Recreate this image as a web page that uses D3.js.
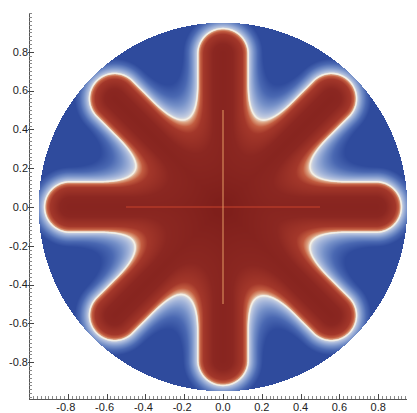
<!DOCTYPE html>
<html>
<head>
<meta charset="UTF-8">
<title>star field</title>
<style>
    body{ margin:0; background:#fff;}
    svg{ display:block;}
    text{ font-family:"Liberation Sans", Arial, sans-serif; font-size:11px; fill:#222;}
</style>
</head>
<body>
<script src="https://cdn.jsdelivr.net/npm/d3@7"></script>
<script>

// shape of the red region: 8 rounded arms merged with a smooth fillet
var armAngles = [0, 45, 90, 135, 180, 225, 270, 315];
var armTip = 0.92;
var armHalfWidth = 0.13;
var filletK = 0.23;
var domainRadius = 0.95;

// guide lines drawn on top
var hLine = [[-0.5, 0], [0.5, 0]];
var vLine = [[0, -0.5], [0, 0.5]];

// axes
var xTicks = [-0.8, -0.6, -0.4, -0.2, 0.0, 0.2, 0.4, 0.6, 0.8];
var yTicks = [-0.8, -0.6, -0.4, -0.2, 0.0, 0.2, 0.4, 0.6, 0.8];
var xRange = [-1.0, 0.95];
var yRange = [-0.99, 1.0];

// colour ramp over signed distance (negative = inside)
var rampStops = [-0.25, -0.08, -0.03, -0.015, -0.006, 0, 0.006, 0.015, 0.03, 0.05, 0.075];
var rampColors = ["#7f1f1b", "#8b2721", "#a3372a", "#c25c40", "#dba07f", "#ece6dc",
                  "#c0cadf", "#a0b2d8", "#7590c8", "#4a68b2", "#2f4b9d"];

var W = 417, H = 413;
var x = d3.scaleLinear().domain([0, 1]).range([223, 417]);
var y = d3.scaleLinear().domain([0, 1]).range([207, 13]);
var color = d3.scaleLinear().domain(rampStops).range(rampColors)
        .interpolate(d3.interpolateRgb).clamp(true);

var arms = armAngles.map(function(a){
    var r = a * Math.PI / 180, L = armTip - armHalfWidth;
    return [L * Math.cos(r), L * Math.sin(r)];
});

function smin(a, b, k){
    var h = Math.max(k - Math.abs(a - b), 0) / k;
    return Math.min(a, b) - h * h * k / 4;
}

function sdf(px, py){
    var d = Infinity;
    arms.forEach(function(e){
        var t = (px * e[0] + py * e[1]) / (e[0] * e[0] + e[1] * e[1]);
        t = Math.max(0, Math.min(1, t));
        var dx = px - t * e[0], dy = py - t * e[1];
        var di = Math.sqrt(dx * dx + dy * dy) - armHalfWidth;
        d = (d === Infinity) ? di : smin(d, di, filletK);
    });
    return d;
}

var svg = d3.select("body").append("svg").attr("width", W).attr("height", H);

// raster of the field
var canvas = document.createElement("canvas");
canvas.width = W; canvas.height = H;
var ctx = canvas.getContext("2d");
var img = ctx.createImageData(W, H);
for (var j = 0; j < H; j++){
    for (var i = 0; i < W; i++){
        var vx = x.invert(i + 0.5), vy = y.invert(j + 0.5);
        if (vx * vx + vy * vy > domainRadius * domainRadius) continue;
        var c = d3.rgb(color(sdf(vx, vy)));
        var k = (j * W + i) * 4;
        img.data[k] = c.r; img.data[k + 1] = c.g; img.data[k + 2] = c.b; img.data[k + 3] = 255;
    }
}
ctx.putImageData(img, 0, 0);
svg.append("image").attr("x", 0).attr("y", 0).attr("width", W).attr("height", H)
    .attr("href", canvas.toDataURL());

// white iso-line at the interface
var n = 300, step = 2 * domainRadius / n, grid = new Array(n * n);
for (var gj = 0; gj < n; gj++){
    for (var gi = 0; gi < n; gi++){
        grid[gj * n + gi] = -sdf(-domainRadius + (gi + 0.5) * step, domainRadius - (gj + 0.5) * step);
    }
}
var iso = d3.contours().size([n, n]).thresholds([0])(grid);
var ring = d3.line()
    .x(function(p){ return x(-domainRadius + p[0] * step); })
    .y(function(p){ return y(domainRadius - p[1] * step); });
var isoD = "";
iso[0].coordinates.forEach(function(poly){
    poly.forEach(function(r){ isoD += ring(r) + "Z"; });
});
svg.append("path").attr("d", isoD)
    .attr("fill", "none").attr("stroke", "#f3efe6").attr("stroke-width", 1.4);

// guide lines
var line = d3.line().x(function(d){ return x(d[0]); }).y(function(d){ return y(d[1]); });
svg.append("path").attr("d", line(hLine)).attr("stroke", "#c8432c").attr("stroke-width", 1).attr("fill", "none");
svg.append("path").attr("d", line(vLine)).attr("stroke", "#e39a64").attr("stroke-width", 1).attr("fill", "none");

// axes
var axisColor = "#555";
var x0 = x(xRange[0]), yb = y(yRange[0]);
svg.append("line").attr("x1", x0).attr("x2", x0).attr("y1", y(yRange[1])).attr("y2", yb)
    .attr("stroke", axisColor).attr("shape-rendering", "crispEdges");
svg.append("line").attr("x1", x0).attr("x2", x(xRange[1])).attr("y1", yb).attr("y2", yb)
    .attr("stroke", axisColor).attr("shape-rendering", "crispEdges");

var minorY = d3.range(-98, 101, 2).map(function(v){ return v / 100; });
var minorX = d3.range(-98, 96, 2).map(function(v){ return v / 100; });

svg.append("g").selectAll("line").data(minorY).enter().append("line")
    .attr("x1", x0).attr("x2", x0 + 3)
    .attr("y1", function(d){ return Math.round(y(d)) + 0.5; })
    .attr("y2", function(d){ return Math.round(y(d)) + 0.5; })
    .attr("stroke", "#888").attr("stroke-width", 1);
svg.append("g").selectAll("line").data(minorX).enter().append("line")
    .attr("y1", yb).attr("y2", yb - 3)
    .attr("x1", function(d){ return Math.round(x(d)) + 0.5; })
    .attr("x2", function(d){ return Math.round(x(d)) + 0.5; })
    .attr("stroke", "#888").attr("stroke-width", 1);

svg.append("g").selectAll("line").data(yTicks).enter().append("line")
    .attr("x1", x0 - 1).attr("x2", x0 + 5)
    .attr("y1", function(d){ return Math.round(y(d)) + 0.5; })
    .attr("y2", function(d){ return Math.round(y(d)) + 0.5; })
    .attr("stroke", "#444");
svg.append("g").selectAll("line").data(xTicks).enter().append("line")
    .attr("y1", yb + 1).attr("y2", yb - 5)
    .attr("x1", function(d){ return Math.round(x(d)) + 0.5; })
    .attr("x2", function(d){ return Math.round(x(d)) + 0.5; })
    .attr("stroke", "#444");

svg.append("g").selectAll("text").data(yTicks).enter().append("text")
    .attr("x", x0 - 1).attr("y", function(d){ return y(d); }).attr("dy", "0.35em")
    .attr("text-anchor", "end")
    .text(function(d){ return d.toFixed(1); });
svg.append("g").selectAll("text").data(xTicks).enter().append("text")
    .attr("x", function(d){ return x(d) + (d < 0 ? -2 : 0); }).attr("y", yb + 12)
    .attr("text-anchor", "middle")
    .text(function(d){ return d.toFixed(1); });

</script>
</body>
</html>
